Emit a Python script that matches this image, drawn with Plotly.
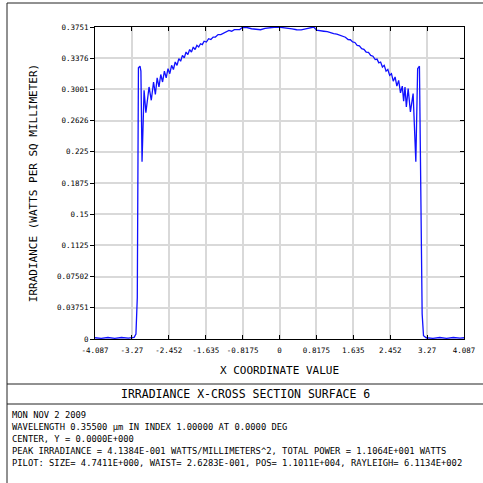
import plotly.graph_objects as go

# irradiance cross-section
pos_x = [
    -4.087, -3.95, -3.80, -3.65, -3.50, -3.35, -3.22, -3.18, -3.15,
    -3.125, -3.09, -3.07, -3.045, -3.02, -3.00, -2.96, -2.89, -2.84,
    -2.79, -2.75, -2.71, -2.67, -2.63, -2.59, -2.55, -2.51, -2.47,
    -2.43, -2.39, -2.35, -2.31, -2.27, -2.23, -2.19, -2.15, -2.11,
    -2.07, -2.03, -1.99, -1.95, -1.91, -1.87, -1.83, -1.79, -1.75,
    -1.71, -1.67, -1.62, -1.57, -1.52, -1.47, -1.42, -1.36, -1.30,
    -1.24, -1.18, -1.12, -1.06, -1.00, -0.94, -0.88, -0.82, -0.72,
    -0.62, -0.52, -0.42, -0.32, -0.22, -0.12, -0.02, 0.08, 0.18,
    0.28, 0.38, 0.48, 0.58, 0.68, 0.76, 0.82, 0.90, 0.98,
    1.06, 1.13, 1.20, 1.27, 1.34, 1.40, 1.46, 1.52, 1.57,
    1.62, 1.67, 1.72, 1.77, 1.82, 1.87, 1.92, 1.97, 2.02,
    2.07, 2.12, 2.16, 2.20, 2.24, 2.28, 2.32, 2.36, 2.40,
    2.44, 2.48, 2.52, 2.56, 2.60, 2.64, 2.68, 2.72, 2.75,
    2.78, 2.81, 2.85, 2.90, 2.96, 3.02, 3.06, 3.10, 3.13,
    3.16, 3.19, 3.25, 3.40, 3.55, 3.70, 3.85, 4.00, 4.087,
]
irradiance = [
    0.0015, 0.0008, 0.0018, 0.0008, 0.0018, 0.0010, 0.0020, 0.0060, 0.0500,
    0.3260, 0.3280, 0.3220, 0.2130, 0.2620, 0.2990, 0.2720, 0.3030, 0.2870,
    0.3090, 0.2940, 0.3140, 0.3030, 0.3180, 0.3090, 0.3220, 0.3140, 0.3250,
    0.3190, 0.3290, 0.3240, 0.3330, 0.3290, 0.3370, 0.3340, 0.3410, 0.3380,
    0.3450, 0.3420, 0.3480, 0.3450, 0.3510, 0.3480, 0.3530, 0.3510, 0.3550,
    0.3540, 0.3580, 0.3570, 0.3610, 0.3600, 0.3630, 0.3630, 0.3660, 0.3660,
    0.3680, 0.3690, 0.3710, 0.3700, 0.3720, 0.3720, 0.3720, 0.3747, 0.3745,
    0.3730, 0.3722, 0.3718, 0.3735, 0.3746, 0.3748, 0.3750, 0.3745, 0.3732,
    0.3728, 0.3718, 0.3716, 0.3728, 0.3740, 0.3751, 0.3712, 0.3710, 0.3700,
    0.3695, 0.3680, 0.3672, 0.3665, 0.3650, 0.3632, 0.3628, 0.3600, 0.3598,
    0.3572, 0.3565, 0.3530, 0.3525, 0.3490, 0.3482, 0.3450, 0.3445, 0.3410,
    0.3400, 0.3360, 0.3365, 0.3320, 0.3330, 0.3270, 0.3290, 0.3220, 0.3240,
    0.3170, 0.3190, 0.3100, 0.3150, 0.3040, 0.3110, 0.2960, 0.3040, 0.2860,
    0.3030, 0.2790, 0.3010, 0.2730, 0.2950, 0.2130, 0.3250, 0.3280, 0.1500,
    0.0300, 0.0040, 0.0015, 0.0008, 0.0018, 0.0008, 0.0018, 0.0010, 0.0015,
]

x_ticks = [-4.087, -3.27, -2.452, -1.635, -0.8175, 0, 0.8175, 1.635, 2.452, 3.27, 4.087]
x_labels = ["-4.087", "-3.27", "-2.452", "-1.635", "-0.8175", "0",
            "0.8175", "1.635", "2.452", "3.27", "4.087"]
y_ticks = [0, 0.03751, 0.07502, 0.1125, 0.15, 0.1875, 0.225, 0.2626, 0.3001, 0.3376, 0.3751]
y_labels = ["0", "0.03751", "0.07502", "0.1125", "0.15", "0.1875",
            "0.225", "0.2626", "0.3001", "0.3376", "0.3751"]

title = "IRRADIANCE X-CROSS SECTION SURFACE 6"
info_lines = [
    "MON NOV 2 2009",
    "WAVELENGTH 0.35500 µm IN INDEX 1.00000 AT 0.0000 DEG",
    "CENTER, Y = 0.0000E+000",
    "PEAK IRRADIANCE = 4.1384E-001 WATTS/MILLIMETERS^2, TOTAL POWER = 1.1064E+001 WATTS",
    "PILOT: SIZE= 4.7411E+000, WAIST= 2.6283E-001, POS= 1.1011E+004, RAYLEIGH= 6.1134E+002",
]

W, H = 483, 483
L, R, T, B = 95, 464, 27, 339
FONT = "DejaVu Sans Mono"


def px(x):
    return (x - L) / (R - L)


def py(y):
    return (B - y) / (B - T)


fig = go.Figure()
fig.add_trace(go.Scatter(x=pos_x, y=irradiance, mode="lines",
                         line=dict(color="#1010ff", width=1.3), showlegend=False))
# invisible trace to carry the right-hand tick axis
fig.add_trace(go.Scatter(x=[pos_x[0]], y=[0], yaxis="y2", mode="markers",
                         marker=dict(opacity=0), showlegend=False, hoverinfo="skip"))

axis_font = dict(family=FONT, size=7.5, color="#000")
fig.update_layout(
    width=W, height=H,
    margin=dict(l=L, r=W - R, t=T, b=H - B),
    paper_bgcolor="white", plot_bgcolor="white",
    xaxis=dict(range=[-4.087, 4.087], tickvals=x_ticks, ticktext=x_labels,
               tickfont=axis_font, showgrid=True, gridcolor="#d9d9d9", gridwidth=1.5,
               zeroline=False, showline=True, linecolor="#000", linewidth=1,
               mirror="ticks", ticks="inside", ticklen=4, tickcolor="#000",
               ticklabelstandoff=4, automargin=False,
               title=dict(text="X COORDINATE VALUE", font=dict(family=FONT, size=11, color="#000"),
                          standoff=12)),
    yaxis=dict(range=[0, 0.3751], tickvals=y_ticks, ticktext=y_labels,
               tickfont=axis_font, showgrid=True, gridcolor="#d9d9d9", gridwidth=1.5,
               zeroline=False, showline=True, linecolor="#000", linewidth=1,
               mirror=True, ticks="outside", ticklen=4, tickcolor="#000",
               automargin=False,
               title=dict(text="IRRADIANCE (WATTS PER SQ MILLIMETER)",
                          font=dict(family=FONT, size=11, color="#000"), standoff=17)),
    yaxis2=dict(range=[0, 0.3751], tickvals=y_ticks, showticklabels=False,
                overlaying="y", side="right", showgrid=False, zeroline=False,
                ticks="inside", ticklen=4, tickcolor="#000", automargin=False),
)

line = dict(color="#222", width=1)
shapes = [
    dict(type="line", xref="paper", yref="paper", x0=px(7), x1=px(W), y0=py(3), y1=py(3), line=line),
    dict(type="line", xref="paper", yref="paper", x0=px(7), x1=px(7), y0=py(3), y1=py(H), line=line),
    dict(type="line", xref="paper", yref="paper", x0=px(7), x1=px(W), y0=py(384), y1=py(384), line=line),
    dict(type="line", xref="paper", yref="paper", x0=px(7), x1=px(W), y0=py(404), y1=py(404), line=line),
]
fig.update_layout(shapes=shapes)

fig.add_annotation(text=title, xref="paper", yref="paper", x=px(245), y=py(394),
                   showarrow=False, xanchor="center", yanchor="middle",
                   font=dict(family=FONT, size=11.5, color="#000"))
for i, s in enumerate(info_lines):
    fig.add_annotation(text=s, xref="paper", yref="paper", x=px(10), y=py(415 + 12 * i),
                       showarrow=False, xanchor="left", yanchor="middle",
                       font=dict(family=FONT, size=8.8, color="#000"))

# page body has a default 8px margin; drop it so the figure sits at the window corner
fig.write_html("out.html", config={"displayModeBar": False},
               post_script="document.body.style.margin='0';")
